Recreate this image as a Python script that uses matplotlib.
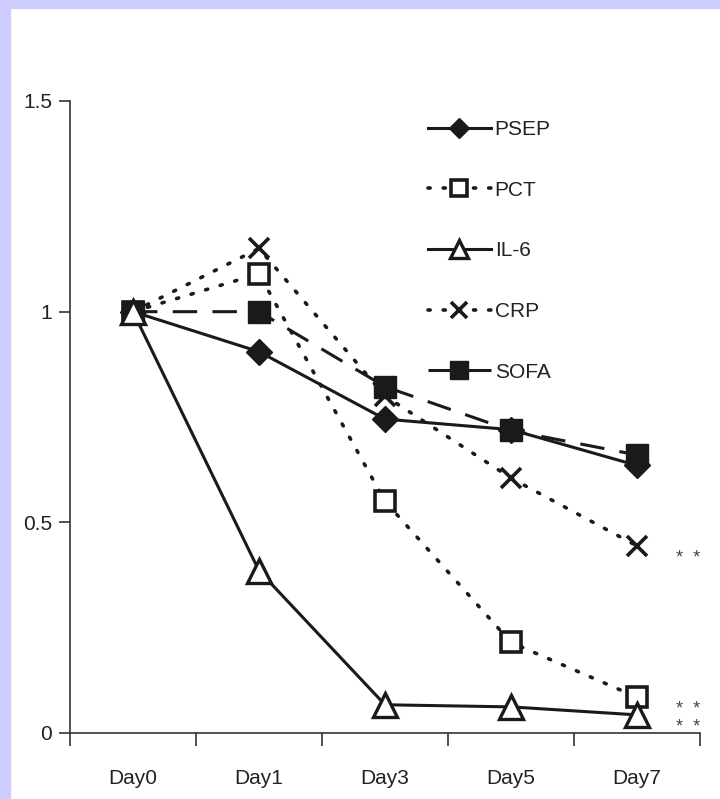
import numpy as np
import matplotlib.pyplot as plt
from matplotlib.patches import Rectangle

plt.rcParams['font.family'] = ['Liberation Sans', 'DejaVu Sans']

days = ['Day0', 'Day1', 'Day3', 'Day5', 'Day7']
psep = [1.0, 0.905, 0.745, 0.72, 0.635]
pct = [1.0, 1.09, 0.55, 0.215, 0.085]
il6 = [1.0, 0.385, 0.067, 0.062, 0.043]
crp = [1.0, 1.15, 0.80, 0.605, 0.444]
sofa = [1.0, 1.0, 0.822, 0.718, 0.66]
stars = [('crp', 0.444), ('pct', 0.085), ('il6', 0.043)]

ink = '#1a1a1a'
fig = plt.figure(figsize=(7.2, 7.99), dpi=100)
fig.patches.append(Rectangle((0, 0), 10 / 720, 1, transform=fig.transFigure,
                             color='#ccccff', zorder=0))
fig.patches.append(Rectangle((0, 1 - 8 / 799), 1, 8 / 799, transform=fig.transFigure,
                             color='#ccccff', zorder=0))

ax = fig.add_axes([70 / 720, 66 / 799, 630 / 720, 632 / 799])
x = np.arange(len(days))

dots = (0, (0.6, 3.6))
ax.plot(x, crp, ls=dots, lw=2.6, color=ink, marker='x', ms=14, mew=2.6,
        label='CRP', dash_capstyle='round', zorder=3)
ax.plot(x, pct, ls=dots, lw=2.6, color=ink, marker='s', ms=15, mew=2.6,
        mfc='white', mec=ink, label='PCT', dash_capstyle='round', zorder=4)
ax.plot(x, sofa, ls=(0, (8, 5)), lw=2.2, color=ink, marker='s', ms=16,
        label='SOFA', zorder=5)
ax.plot(x, psep, ls='-', lw=2.2, color=ink, marker='D', ms=13, label='PSEP', zorder=6)
ax.plot(x, il6, ls='-', lw=2.2, color=ink, marker='^', ms=17, mew=2.4,
        mfc='white', mec=ink, label='IL-6', zorder=7)

for name, v in stars:
    ax.annotate('*  *', xy=(4, v), xytext=(28, -9), textcoords='offset points',
                fontsize=13, color='#444455', va='center', ha='left')

ax.set_xlim(-0.5, 4.5)
ax.set_ylim(0, 1.5)
ax.set_yticks([0, 0.5, 1, 1.5])
ax.set_yticklabels(['0', '0.5', '1', '1.5'])
ax.set_xticks(x)
ax.set_xticklabels(days)
ax.set_xticks(np.arange(-0.5, 5, 1), minor=True)
ax.tick_params(axis='x', which='major', length=0, pad=26, labelsize=15, labelcolor='#222222')
ax.tick_params(axis='x', which='minor', length=9, width=1.2, direction='out', color='#333333')
ax.tick_params(axis='y', length=8, width=1.2, direction='out', color='#333333',
               labelsize=15, labelcolor='#222222', pad=5)
for s in ['top', 'right']:
    ax.spines[s].set_visible(False)
for s in ['left', 'bottom']:
    ax.spines[s].set_linewidth(1.2)
    ax.spines[s].set_color('#333333')

h, l = ax.get_legend_handles_labels()
order = ['PSEP', 'PCT', 'IL-6', 'CRP', 'SOFA']
hs = [h[l.index(n)] for n in order]
leg = ax.legend(hs, order, loc='upper left', bbox_to_anchor=((428 - 70) / 630, (733 - 120) / 632),
                frameon=False, fontsize=15, handlelength=3.0, labelspacing=2.0,
                handletextpad=0.2, borderpad=0, borderaxespad=0, markerscale=0.8)
for t in leg.get_texts():
    t.set_color('#222222')

fig.savefig('out.png', dpi=100)
